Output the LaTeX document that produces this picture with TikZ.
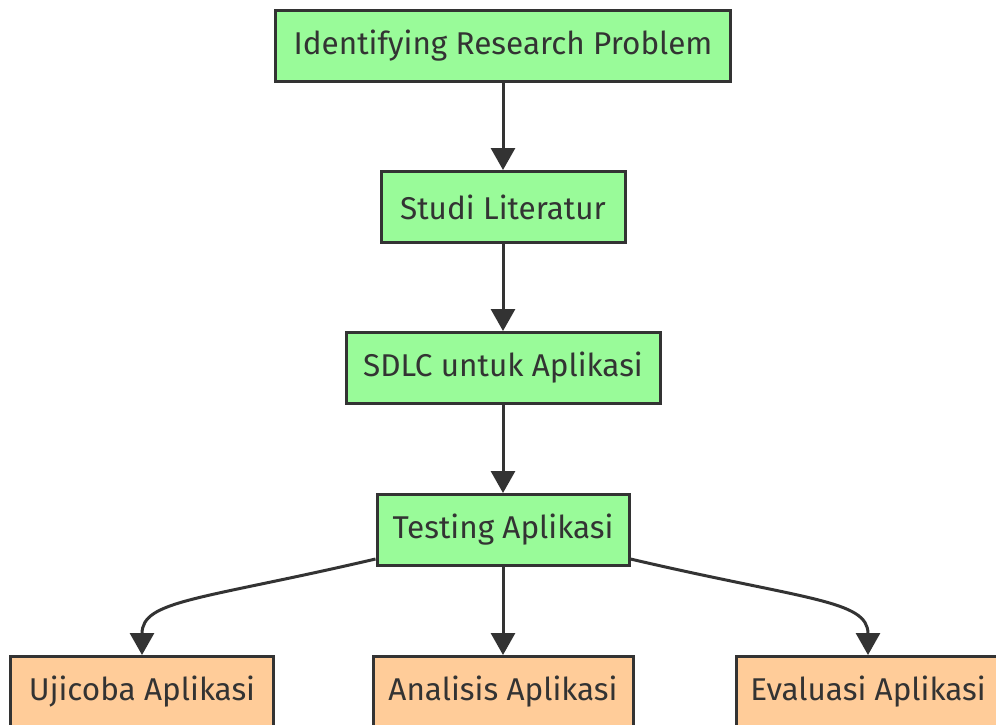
\documentclass[tikz,border=0pt]{standalone}
\usepackage{fontspec}
\setmainfont{Fira Sans}
\usetikzlibrary{arrows.meta}
\definecolor{phasegreen}{HTML}{99FB99}
\definecolor{resultorange}{HTML}{FFCC99}
\definecolor{inkgray}{HTML}{333333}
\begin{document}
\begin{tikzpicture}[x=1pt,y=-1pt,
    box/.style={draw=inkgray,line width=3pt,text=inkgray,minimum height=71pt,
        inner xsep=12pt,font=\fontsize{31.5}{36}\selectfont},
    phase/.style={box,fill=phasegreen},
    result/.style={box,fill=resultorange},
    flow/.style={draw=inkgray,line width=3pt,-{Triangle[length=22pt,width=24pt]}}]
    \useasboundingbox (0,0) rectangle (996,724);
    % Research steps
    \node[phase,minimum width=455pt] (ident) at (503,46) {Identifying Research Problem};
    \node[phase,minimum width=244pt] (studi) at (503,207) {Studi Literatur};
    \node[phase,minimum width=314pt] (sdlc) at (503,368) {SDLC untuk Aplikasi};
    \node[phase,minimum width=252pt] (test) at (503,530) {Testing Aplikasi};
    % Outcomes
    \node[result,minimum width=263pt] (uji) at (142,692) {Ujicoba Aplikasi};
    \node[result,minimum width=260pt] (anal) at (503,692) {Analisis Aplikasi};
    \node[result,minimum width=263pt] (eval) at (868,692) {Evaluasi Aplikasi};
    % Connectors
    \draw[flow] (ident) -- (studi);
    \draw[flow] (studi) -- (sdlc);
    \draw[flow] (sdlc) -- (test);
    \draw[flow] (test) -- (anal);
    \draw[flow] ([yshift=8pt]test.south west) .. controls (200,600) and (142,600) .. (uji.north);
    \draw[flow] ([yshift=8pt]test.south east) .. controls (806,600) and (868,600) .. (eval.north);
\end{tikzpicture}
\end{document}
